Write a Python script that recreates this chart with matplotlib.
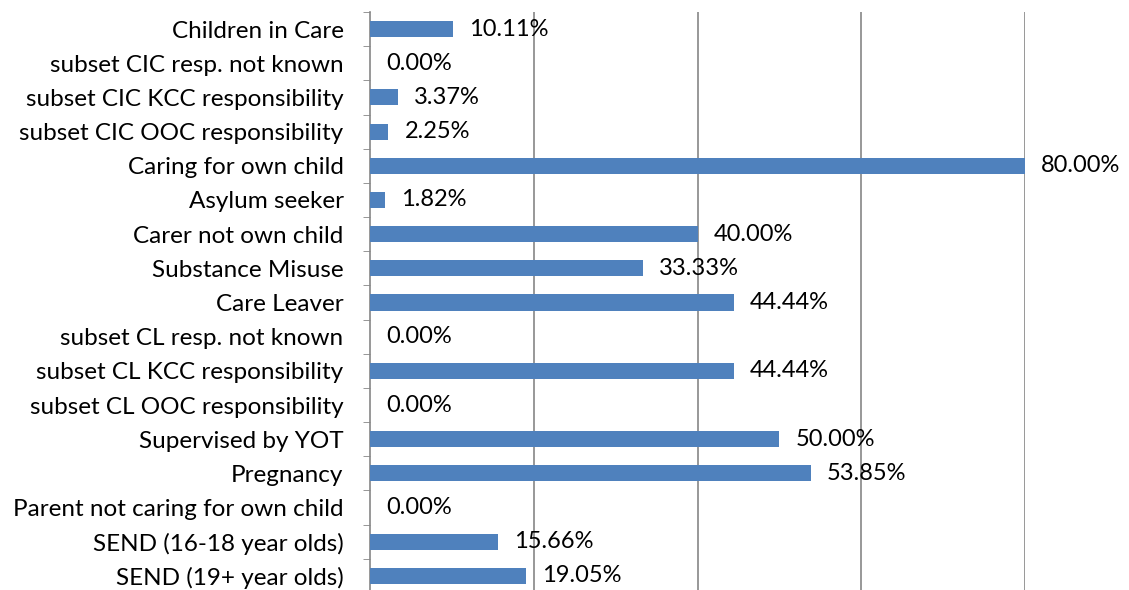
import matplotlib
matplotlib.use("Agg")
import matplotlib.pyplot as plt
import numpy as np

categories = [
    "Children in Care",
    "subset CIC resp. not known",
    "subset CIC KCC responsibility",
    "subset CIC OOC responsibility",
    "Caring for own child",
    "Asylum seeker",
    "Carer not own child",
    "Substance Misuse",
    "Care Leaver",
    "subset CL resp. not known",
    "subset CL KCC responsibility",
    "subset CL OOC responsibility",
    "Supervised by YOT",
    "Pregnancy",
    "Parent not caring for own child",
    "SEND (16-18 year olds)",
    "SEND (19+ year olds)",
]
values = [0.1011, 0.0, 0.0337, 0.0225, 0.80, 0.0182, 0.40, 0.3333, 0.4444,
          0.0, 0.4444, 0.0, 0.50, 0.5385, 0.0, 0.1566, 0.1905]

plt.rcParams['font.family'] = ['Lato', 'DejaVu Sans']

fig = plt.figure(figsize=(11.29, 5.90), dpi=100)
ax = fig.add_axes([370/1129, -3/590, (1025-370)/1129, (590-12+3)/590])

n = len(categories)
y = np.arange(n)
ax.barh(y, values, height=0.47, color="#4F81BD", zorder=3)
ax.set_ylim(n - 0.5, -0.5)
ax.set_xlim(0, 0.8)

for yi, v in zip(y, values):
    ax.annotate(f"{v*100:.2f}%", xy=(v, yi), xytext=(16, 0), textcoords="offset pixels",
                va="center", ha="left", fontsize=17, color="black", annotation_clip=False, zorder=4)

ax.set_yticks(y)
ax.set_yticklabels(categories, fontsize=17.5)
ax.set_yticks(np.arange(-0.5, n, 1), minor=True)
ax.tick_params(axis="y", which="major", length=0, pad=19)
ax.tick_params(axis="y", which="minor", length=5, color="#868686", direction="out")

ax.set_xticks([0.2, 0.4, 0.6, 0.8])
ax.tick_params(axis="x", length=0, labelbottom=False)
ax.grid(axis="x", color="#868686", linewidth=1.2, zorder=0)

for s in ["top", "right", "bottom"]:
    ax.spines[s].set_visible(False)
ax.spines["left"].set_color("#868686")
ax.spines["left"].set_linewidth(1.2)

fig.savefig("out.png", dpi=100)
